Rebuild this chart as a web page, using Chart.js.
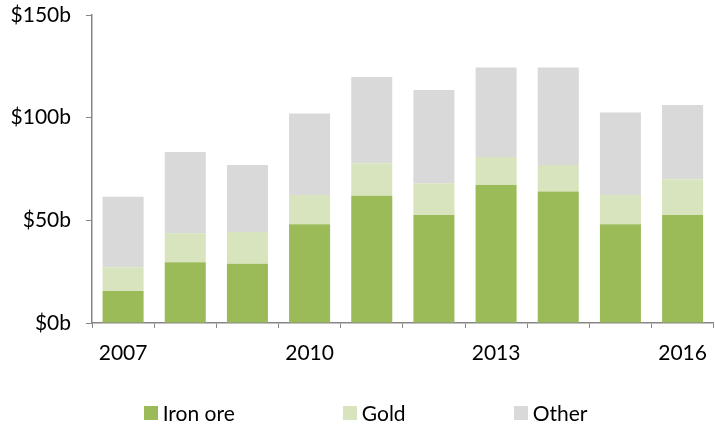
<!DOCTYPE html>
<html>
<head>
<meta charset="utf-8">
<script src="https://cdn.jsdelivr.net/npm/chart.js@4"></script>
<style>
    html, body {
        margin: 0;
        padding: 0;
        background: #fff;
        overflow: hidden;
    }
    .chart-wrap {
        position: relative;
        width: 720px;
        height: 426px;
    }
    .legend {
        position: absolute;
        left: 0;
        top: 400px;
        width: 715px;
        box-sizing: border-box;
        padding-left: 16px;
        display: flex;
        justify-content: center;
        gap: 108px;
        font-family: Lato, sans-serif;
        font-size: 21px;
        color: #000;
    }
    .legend span.item {
        display: flex;
        align-items: center;
    }
    .legend span.box {
        display: inline-block;
        width: 14px;
        height: 14px;
        margin-right: 5px;
    }
</style>
</head>
<body>
<div class="chart-wrap">
    <canvas id="main-chart" width="720" height="426"></canvas>
    <div class="legend" id="legend"></div>
</div>
<script>
// Chart data (US$ billions)
const years = ["2007", "2008", "2009", "2010", "2011", "2012", "2013", "2014", "2015", "2016"];
const ironOre = [15.6, 29.6, 28.9, 48.1, 62.0, 52.6, 67.2, 64.0, 48.1, 52.6];
const gold = [11.5, 14.1, 15.4, 14.2, 15.8, 15.4, 13.7, 13.0, 14.2, 17.4];
const other = [34.4, 39.6, 32.7, 39.7, 42.0, 45.5, 43.5, 47.4, 40.2, 36.2];
const yTicks = [0, 50, 100, 150];

const seriesNames = ["Iron ore", "Gold", "Other"];
const seriesColors = ["#9bbb59", "#d7e4bd", "#d9d9d9"];

const axisColor = "#868686";
const fontFamily = "Lato, sans-serif";

function buildChart() {
    const chartCanvas = document.getElementById("main-chart");

    // If the chart canvas doesn't exist, exit the function
    if (!chartCanvas) {
        return;
    }

    const seriesData = [ironOre, gold, other];

    const exportsChart = new Chart(chartCanvas, {
        type: "bar",
        data: {
            labels: years,
            datasets: seriesNames.map((name, i) => ({
                label: name,
                data: seriesData[i],
                backgroundColor: seriesColors[i],
                borderWidth: 0,
                barPercentage: 0.66,
                categoryPercentage: 1,
            })),
        },
        options: {
            responsive: false,
            animation: false,
            layout: {
                padding: { top: 0, right: 1, bottom: 60, left: 0 },
            },
            plugins: {
                legend: { display: false },
                tooltip: { enabled: false },
            },
            scales: {
                x: {
                    stacked: true,
                    grid: {
                        offset: true,
                        drawOnChartArea: false,
                        drawTicks: true,
                        tickLength: 5,
                        color: axisColor,
                    },
                    border: { color: axisColor, width: 1.5 },
                    ticks: {
                        autoSkip: false,
                        maxRotation: 0,
                        padding: 13,
                        color: "#000",
                        font: { family: fontFamily, size: 21 },
                        callback: function (value, index) {
                            return index % 3 === 0 ? years[index] : "";
                        },
                    },
                    afterFit: function (scale) {
                        scale.height = 43;
                    },
                },
                y: {
                    stacked: true,
                    min: 0,
                    max: 150,
                    afterBuildTicks: function (scale) {
                        scale.ticks = yTicks.map((v) => ({ value: v }));
                    },
                    grid: {
                        drawOnChartArea: false,
                        drawTicks: true,
                        tickLength: 6,
                        color: axisColor,
                    },
                    border: { color: axisColor, width: 1.5 },
                    ticks: {
                        padding: 15,
                        color: "#000",
                        font: { family: fontFamily, size: 21 },
                        callback: function (value) {
                            return "$" + value + "b";
                        },
                    },
                    afterFit: function (scale) {
                        scale.width = 92;
                        // keep the top tick label close to the canvas edge
                        scale.paddingTop = 15;
                        scale.paddingBottom = 0;
                    },
                },
            },
        },
    });

    // Legend as html under the canvas
    const legendEl = document.getElementById("legend");
    seriesNames.forEach((name, i) => {
        const item = document.createElement("span");
        item.className = "item";
        const box = document.createElement("span");
        box.className = "box";
        box.style.background = seriesColors[i];
        item.appendChild(box);
        item.appendChild(document.createTextNode(name));
        legendEl.appendChild(item);
    });

    exportsChart.update();
}

buildChart();
</script>
</body>
</html>
